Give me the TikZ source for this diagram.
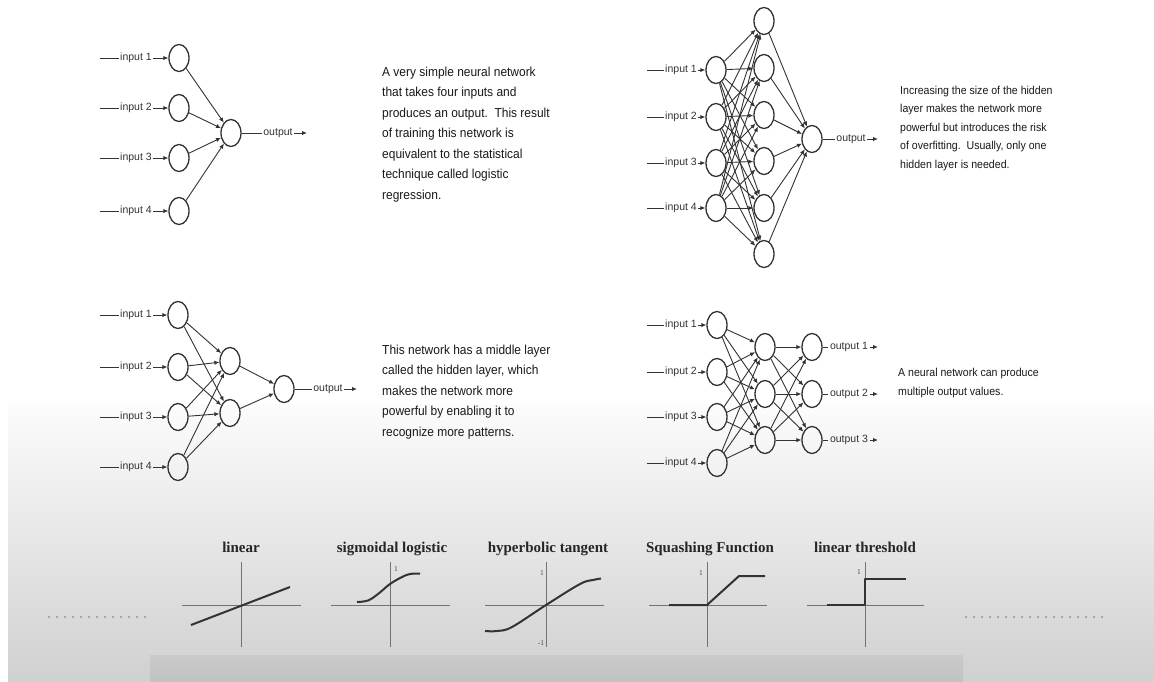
\documentclass[tikz,border=0pt]{standalone}
\usepackage{fontspec}
\setmainfont{Liberation Sans}
\newfontfamily\descfont[FakeStretch=0.92]{Liberation Sans}
\newfontfamily\titlefont{Liberation Serif}
\usetikzlibrary{arrows.meta,shapes.geometric}
\definecolor{bgbot}{RGB}{208,208,208}
\definecolor{bgtop}{RGB}{252,252,252}
\definecolor{bandtop}{RGB}{202,202,202}
\definecolor{bandbot}{RGB}{194,194,194}
\begin{document}
\begin{tikzpicture}[x=1pt,y=-1pt,
  neuron/.style={draw=black!80, line width=1.3pt, ellipse, minimum width=20pt, minimum height=27pt, inner sep=0pt},
  lbl/.style={font=\fontsize{10.5}{12}\selectfont, text=black!80, inner sep=1.5pt},
  wire/.style={draw=black!80, line width=0.9pt},
  conn/.style={wire, -{Latex[length=5pt,width=4.4pt]}},
  desc/.style={font=\descfont\fontsize{13}{20.5}\selectfont, align=left, anchor=base west, inner sep=0pt, text=black!90},
  descs/.style={font=\descfont\fontsize{11.5}{18.5}\selectfont, align=left, anchor=base west, inner sep=0pt, text=black!90},
  ftitle/.style={font=\titlefont\bfseries\fontsize{15}{17}\selectfont, text=black!85, anchor=base, inner sep=0pt},
  axisline/.style={draw=black!55, line width=0.9pt},
  fcurve/.style={draw=black!80, line width=2pt, line join=round},
  tick/.style={font=\titlefont\fontsize{7.5}{8}\selectfont, text=black!70, inner sep=0pt},
  dots/.style={draw=black!35, line width=2.2pt, dash pattern=on 2.2pt off 5.8pt}
]
\useasboundingbox (0,0) rectangle (1154,681);
% background
\fill[white] (0,0) rectangle (1154,681);
\shade[top color=bgtop, bottom color=bgbot] (8,404) rectangle (1154,681);
\shade[top color=bandtop, bottom color=bandbot] (150,655) rectangle (963,681);

% ---------- Network 1 ----------
\foreach \i/\y in {1/58,2/108,3/158,4/211} {
  \node[neuron] (a\i) at (179,\y) {};
  \coordinate (as\i) at (100,\y);
  \node[lbl] (al\i) at (136,\y) {input \i};
  \draw[wire] (as\i) -- (al\i.west);
  \draw[conn] (al\i.east) -- (a\i);
}
\node[neuron] (ao) at (231,133) {};
\foreach \i in {1,...,4} \draw[conn] (a\i) -- (ao);
\node[lbl] (aol) at (278,133) {output};
\coordinate (aoe) at (307,133);
\draw[wire] (ao) -- (aol.west);
\draw[conn] (aol.east) -- (aoe);

\node[desc] (t1) at (382,199) {A very simple neural network\\that takes four inputs and\\produces an output.\ \ This result\\of training this network is\\equivalent to the statistical\\technique called logistic\\regression.};

% ---------- Network 2 ----------
\foreach \i/\y in {1/70,2/117,3/163,4/208} {
  \node[neuron] (b\i) at (716,\y) {};
  \coordinate (bs\i) at (647,\y);
  \node[lbl] (bl\i) at (681,\y) {input \i};
  \draw[wire] (bs\i) -- (bl\i.west);
  \draw[conn] (bl\i.east) -- (b\i);
}
\foreach \j/\y in {1/21,2/68,3/115,4/161,5/208,6/254} {
  \node[neuron] (bh\j) at (764,\y) {};
}
\foreach \i in {1,...,4} \foreach \j in {1,...,6} \draw[conn] (b\i) -- (bh\j);
\node[neuron] (bo) at (812,139) {};
\foreach \j in {1,...,6} \draw[conn] (bh\j) -- (bo);
\node[lbl] (bol) at (851,139) {output};
\coordinate (boe) at (878,139);
\draw[wire] (bo) -- (bol.west);
\draw[conn] (bol.east) -- (boe);

\node[descs] (t2) at (900,168) {Increasing the size of the hidden\\layer makes the network more\\powerful but introduces the risk\\of overfitting.\ \ Usually, only one\\hidden layer is needed.};

% ---------- Network 3 ----------
\foreach \i/\y in {1/315,2/367,3/417,4/467} {
  \node[neuron] (c\i) at (178,\y) {};
  \coordinate (cs\i) at (100,\y);
  \node[lbl] (cl\i) at (136,\y) {input \i};
  \draw[wire] (cs\i) -- (cl\i.west);
  \draw[conn] (cl\i.east) -- (c\i);
}
\foreach \j/\y in {1/361,2/413} \node[neuron] (ch\j) at (230,\y) {};
\foreach \i in {1,...,4} \foreach \j in {1,2} \draw[conn] (c\i) -- (ch\j);
\node[neuron] (co) at (284,389) {};
\foreach \j in {1,2} \draw[conn] (ch\j) -- (co);
\node[lbl] (col) at (328,389) {output};
\coordinate (coe) at (357,389);
\draw[wire] (co) -- (col.west);
\draw[conn] (col.east) -- (coe);

\node[desc] (t3) at (382,436) {This network has a middle layer\\called the hidden layer, which\\makes the network more\\powerful by enabling it to\\recognize more patterns.};

% ---------- Network 4 ----------
\foreach \i/\y in {1/325,2/372,3/417,4/463} {
  \node[neuron] (d\i) at (717,\y) {};
  \coordinate (ds\i) at (647,\y);
  \node[lbl] (dl\i) at (681,\y) {input \i};
  \draw[wire] (ds\i) -- (dl\i.west);
  \draw[conn] (dl\i.east) -- (d\i);
}
\foreach \j/\y in {1/347,2/394,3/440} {
  \node[neuron] (dh\j) at (765,\y) {};
  \node[neuron] (do\j) at (812,\y) {};
  \node[lbl] (dol\j) at (849,\y) {output \j};
  \coordinate (doe\j) at (878,\y);
  \draw[wire] (do\j) -- (dol\j.west);
  \draw[conn] (dol\j.east) -- (doe\j);
}
\foreach \i in {1,...,4} \foreach \j in {1,2,3} \draw[conn] (d\i) -- (dh\j);
\foreach \i in {1,2,3} \foreach \j in {1,2,3} \draw[conn] (dh\i) -- (do\j);

\node[descs] (t4) at (898,395) {A neural network can produce\\multiple output values.};

% ---------- Activation functions ----------
\draw[dots] (48,617) -- (150,617);
\draw[dots] (965,617) -- (1106,617);

% linear
\node[ftitle] (f1) at (241,552) {linear};
\draw[axisline] (182,605) -- (301,605);
\draw[axisline] (241,562) -- (241,647);
\draw[fcurve] (191,625) -- (290,587);

% sigmoidal logistic
\node[ftitle] (f2) at (392,552) {sigmoidal logistic};
\draw[axisline] (331,605) -- (450,605);
\draw[axisline] (390,562) -- (390,647);
\draw[fcurve] plot[smooth, tension=0.6] coordinates {(357,602) (368,600.5) (378,594) (390,584) (402,577) (410,574) (420,573.5)};
\node[tick] (f2a) at (396,569) {1};

% hyperbolic tangent
\node[ftitle] (f3) at (548,552) {hyperbolic tangent};
\draw[axisline] (485,605) -- (604,605);
\draw[axisline] (546,562) -- (546,647);
\draw[fcurve] plot[smooth, tension=0.6] coordinates {(485,631) (497,631) (512,627) (546,605) (580,584) (593,580) (601,578.5)};
\node[tick] (f3a) at (542,573) {1};
\node[tick] (f3b) at (541,643) {-1};

% squashing
\node[ftitle] (f4) at (710,552) {Squashing Function};
\draw[axisline] (649,605) -- (767,605);
\draw[axisline] (707,562) -- (707,647);
\draw[fcurve] (669,605) -- (707,605) -- (739,576) -- (765,576);
\node[tick] (f4a) at (701,573) {1};

% linear threshold
\node[ftitle] (f5) at (865,552) {linear threshold};
\draw[axisline] (807,605) -- (924,605);
\draw[axisline] (865,562) -- (865,647);
\draw[fcurve] (827,605) -- (865,605) -- (865,579) -- (906,579);
\node[tick] (f5a) at (859,572) {1};
\end{tikzpicture}
\end{document}
